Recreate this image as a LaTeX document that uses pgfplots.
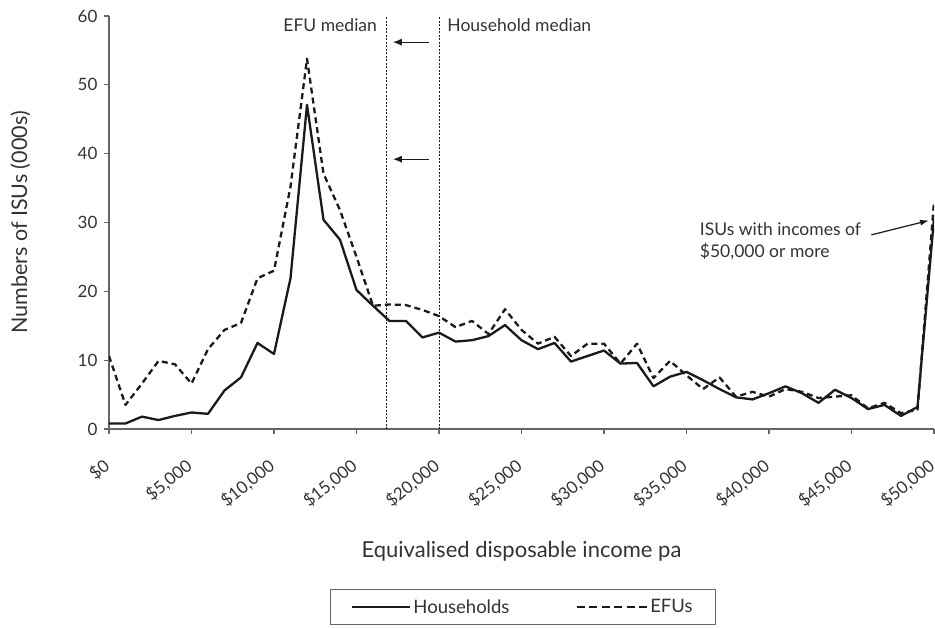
\documentclass[border=0pt]{standalone}
\usepackage{pgfplots}
\pgfplotsset{compat=1.18}
\usepackage{fontspec}
\setmainfont{Lato}
\usetikzlibrary{arrows.meta}
\definecolor{txt}{HTML}{333333}
\definecolor{ln}{HTML}{1A1A1A}
\definecolor{ax}{HTML}{666666}

\pgfplotstableread{
x      hh    efu
0      0.8   10.6
1000   0.8   3.5
2000   1.8   6.6
3000   1.3   9.9
4000   1.9   9.4
5000   2.4   6.6
6000   2.2   11.6
7000   5.6   14.4
8000   7.5   15.4
9000   12.5  21.9
10000  10.9  23.0
11000  21.9  35.2
12000  47.1  53.8
13000  30.4  37.1
14000  27.5  31.8
15000  20.2  25.0
16000  17.9  17.9
17000  15.7  18.1
18000  15.7  18.0
19000  13.3  17.3
20000  14.0  16.4
21000  12.7  14.8
22000  12.9  15.7
23000  13.5  13.8
24000  15.1  17.4
25000  12.9  14.4
26000  11.6  12.4
27000  12.5  13.4
28000  9.8   10.6
29000  10.6  12.4
30000  11.4  12.4
31000  9.5   9.5
32000  9.6   12.4
33000  6.2   7.4
34000  7.6   9.9
35000  8.3   7.8
36000  7.1   5.8
37000  5.8   7.5
38000  4.6   4.7
39000  4.3   5.4
40000  5.2   4.7
41000  6.2   5.8
42000  5.2   5.4
43000  3.8   4.5
44000  5.7   4.7
45000  4.5   4.9
46000  2.9   3.0
47000  3.5   3.8
48000  1.9   2.3
49000  3.2   2.8
50000  30.6  33.0
}\isus

\begin{document}
\begin{tikzpicture}
\begin{axis}[
  at={(0,0)}, anchor=south west,
  scale only axis, width=825pt, height=413pt,
  xmin=0, xmax=50000, ymin=0, ymax=60,
  axis x line=bottom, axis y line=left,
  axis line style={-, draw=ax, line width=1.2pt},
  tick style={draw=ax, line width=1.2pt},
  tick align=outside, major tick length=5pt,
  scaled x ticks=false,
  xtick={0,5000,...,50000},
  xticklabels={\$0,\$5{,}000,\$10{,}000,\$15{,}000,\$20{,}000,\$25{,}000,\$30{,}000,\$35{,}000,\$40{,}000,\$45{,}000,\$50{,}000},
  ytick={0,10,...,60},
  /pgf/number format/assume math mode=true,
  font=\fontsize{17}{20}\selectfont\color{txt},
  xticklabel style={yshift=-23pt, xshift=-7pt, rotate=39, anchor=north east, inner sep=0pt},
  yticklabel style={xshift=-3pt},
  xlabel={Equivalised disposable income pa},
  xlabel style={at={(axis description cs:0.5,-0.2954)}, anchor=center, font=\fontsize{22}{26}\selectfont\color{txt}},
  ylabel={Numbers of ISUs (000s)},
  ylabel style={at={(axis description cs:-0.1074,0.5)}, anchor=center, font=\fontsize{21.5}{26}\selectfont\color{txt}},
  legend columns=2,
  legend style={at={(axis description cs:0.2675,-0.3874)}, anchor=north west,
    draw=ax, line width=1pt, inner xsep=21pt, inner ysep=8pt,
    nodes={inner sep=2pt},
    font=\fontsize{18.5}{22}\selectfont\color{txt},
    /tikz/every even column/.append style={column sep=64pt}},
]
\addplot[ln, line width=2.3pt, line join=round,
  legend image code/.code={\draw[ln, line width=2.3pt] (0pt,0pt) -- (58pt,0pt);}]
  table[x=x, y=hh] {\isus};
\addlegendentry{Households}
\addplot[ln, line width=2.3pt, line join=round, dash pattern=on 6pt off 4pt,
  legend image code/.code={\draw[ln, line width=2.3pt, dash pattern=on 8pt off 4.5pt] (0pt,0pt) -- (70.5pt,0pt);}]
  table[x=x, y=efu] {\isus};
\addlegendentry{EFUs}

\draw[ln, line width=0.8pt, dash pattern=on 2pt off 1.5pt] (axis cs:16800,0) -- (axis cs:16800,60);
\draw[ln, line width=0.8pt, dash pattern=on 2pt off 1.5pt] (axis cs:20000,0) -- (axis cs:20000,60);
\draw[ln, line width=1.2pt, -{Latex[length=9pt,width=7pt]}] (axis cs:19400,56.2) -- (axis cs:17200,56.2);
\draw[ln, line width=1.2pt, -{Latex[length=9pt,width=7pt]}] (axis cs:19400,39.2) -- (axis cs:17200,39.2);
\node[anchor=east, inner sep=0pt, font=\fontsize{17.5}{20}\selectfont, text=txt] at (axis cs:16250,58.7) {EFU median};
\node[anchor=west, inner sep=0pt, font=\fontsize{17.5}{20}\selectfont, text=txt] at (axis cs:20500,58.7) {Household median};
\node[anchor=west, inner sep=0pt, align=left, font=\fontsize{17.5}{21.5}\selectfont, text=txt] at (axis cs:35800,27.3) {ISUs with incomes of\\\$50,000 or more};
\draw[ln, line width=1.2pt, -{Latex[length=9pt,width=6pt]}] (axis cs:46200,28.2) -- (axis cs:49700,30.3);
\end{axis}
\pgfresetboundingbox
\path[use as bounding box] (-109pt,-198pt) rectangle (826pt,429pt);
\end{tikzpicture}
\end{document}
